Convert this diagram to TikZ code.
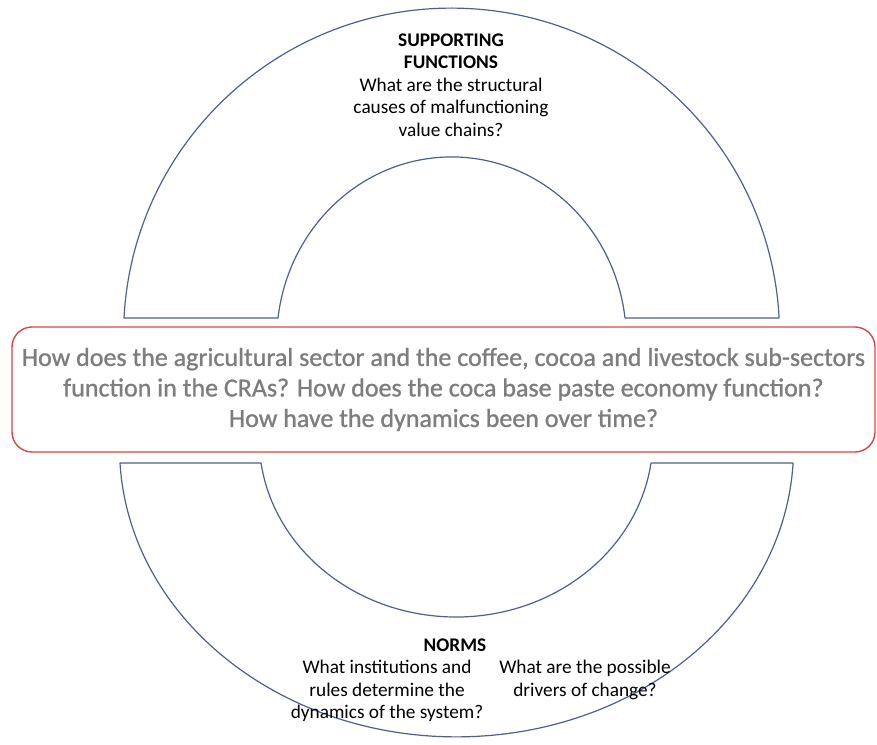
\documentclass[tikz,border=0pt]{standalone}
\usepackage{fontspec}
\setmainfont{Carlito}
\newfontfamily\questionfont[FakeBold=1]{Carlito}
\usetikzlibrary{positioning}
\definecolor{archblue}{RGB}{80,95,140}
\definecolor{boxred}{RGB}{214,72,72}
\definecolor{textgray}{RGB}{125,125,125}
\tikzset{arch/.style={
            draw=archblue,
            line width=1.2pt,
            line join=round
        },
        questionbox/.style={
            draw=boxred,
            fill=white,
            line width=1.4pt,
            rounded corners=20pt,
            minimum width=863pt,
            minimum height=125pt,
            align=center,
            text=textgray,
            font=\questionfont\fontsize{26}{30.5}\selectfont
        },
        smalltext/.style={
            align=center,
            inner sep=0pt,
            font=\fontsize{19.3}{22.5}\selectfont
        }
    }
\begin{document}
\begin{tikzpicture}[x=1pt,y=1pt]
        \useasboundingbox (0,0) rectangle (877,744);
        % upper block arc
        \draw[arch] (124,426) arc[start angle=177, end angle=3, x radius=328pt, y radius=327pt]
            -- (625,426) arc[start angle=7, end angle=173, x radius=174.8pt, y radius=183.4pt] -- cycle;
        % lower block arc
        \draw[arch] (120,281) arc[start angle=183, end angle=357, x radius=337pt, y radius=289pt]
            -- (651,281) arc[start angle=352, end angle=188, x radius=196.9pt, y radius=178.9pt] -- cycle;
        \node[questionbox] (question) at (443.5,354.5) {How does the agricultural sector and the coffee, cocoa and livestock sub-sectors\\
            function in the CRAs? How does the coca base paste economy function?\\
            How have the dynamics been over time?};
        \node[smalltext] (support) at (451,659) {\textbf{SUPPORTING}\\ \textbf{FUNCTIONS}\\
            What are the structural\\ causes of malfunctioning\\ value chains?};
        \node[smalltext] (norms) at (455,99) {\textbf{NORMS}};
        \node[smalltext] (rules) at (387,53) {What institutions and\\ rules determine the\\ dynamics of the system?};
        \node[smalltext] (drivers) at (585,64) {What are the possible\\ drivers of change?};
    \end{tikzpicture}
\end{document}
